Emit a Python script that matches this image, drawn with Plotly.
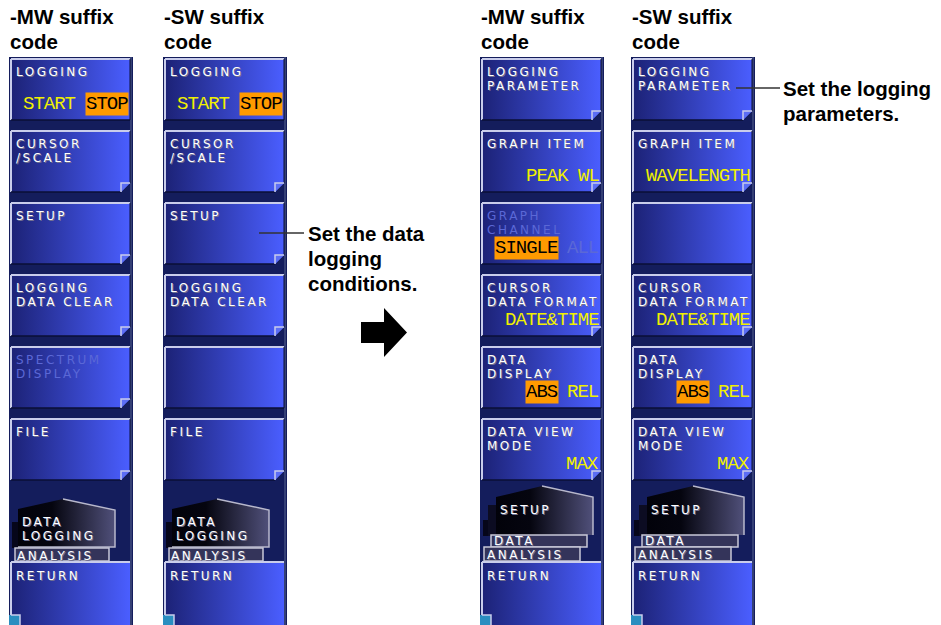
import plotly.graph_objects as go

W, H = 941, 625

# ---------------- data ----------------
title_lines = [["-MW suffix", "code"], ["-SW suffix", "code"], ["-MW suffix", "code"], ["-SW suffix", "code"]]

col1_labels = [["LOGGING"], ["CURSOR", "/SCALE"], ["SETUP"], ["LOGGING", "DATA CLEAR"], ["SPECTRUM", "DISPLAY"], ["FILE"]]
col2_labels = [["LOGGING"], ["CURSOR", "/SCALE"], ["SETUP"], ["LOGGING", "DATA CLEAR"], [], ["FILE"]]
col3_labels = [["LOGGING", "PARAMETER"], ["GRAPH ITEM"], ["GRAPH", "CHANNEL"], ["CURSOR", "DATA FORMAT"], ["DATA", "DISPLAY"], ["DATA VIEW", "MODE"]]
col4_labels = [["LOGGING", "PARAMETER"], ["GRAPH ITEM"], [], ["CURSOR", "DATA FORMAT"], ["DATA", "DISPLAY"], ["DATA VIEW", "MODE"]]

# value items per key: (text, state)  state: on / sel / off
col1_values = [[("START", "on"), ("STOP", "sel")], [], [], [], [], []]
col2_values = [[("START", "on"), ("STOP", "sel")], [], [], [], [], []]
col3_values = [[], [("PEAK WL", "on")], [("SINGLE", "sel"), ("ALL", "off")], [("DATE&TIME", "on")],
               [("ABS", "sel"), ("REL", "on")], [("MAX", "on")]]
col4_values = [[], [("WAVELENGTH", "on")], [], [("DATE&TIME", "on")],
               [("ABS", "sel"), ("REL", "on")], [("MAX", "on")]]

col1_disabled = [False, False, False, False, True, False]
col2_disabled = [False] * 6
col3_disabled = [False, False, True, False, False, False]
col4_disabled = [False] * 6

col1_fold = [False, True, True, True, True, True]
col2_fold = [False, True, True, True, False, True]
col3_fold = [True, True, False, True, False, True]
col4_fold = [True, True, False, True, False, True]

col1_tabs = (["DATA", "LOGGING"], ["ANALYSIS"])
col2_tabs = (["DATA", "LOGGING"], ["ANALYSIS"])
col3_tabs = (["SETUP"], ["DATA", "ANALYSIS"])
col4_tabs = (["SETUP"], ["DATA", "ANALYSIS"])

return_label = "RETURN"

callout1 = ["Set the data", "logging", "conditions."]
callout2 = ["Set the logging", "parameters."]

# ---------------- layout constants ----------------
panel_x = [9, 163, 480, 631]
PANEL_W = 124
PANEL_TOP = 57
KEY_TOP = 59
KEY_PITCH = 72
KEY_H = 61
FOLD = 9

NAVY = "#141d5c"
BTN_L = "#1c2276"
BTN_R = "#4a5eff"
LIGHT = "#c9cdeb"
DARK = "#0a0f36"
YELLOW = "#f0f000"
ORANGE = "#ff9a00"
DISABLED = "#5b68d6"

LABEL_FONT = "DejaVu Sans"
LABEL_SIZE = 12
LABEL_LS = 2.5
LABEL_STEP = 14.2
VALUE_FONT = "Liberation Mono, DejaVu Sans Mono, monospace"
VALUE_SIZE = 19
VALUE_LS = -1.0
VALUE_CW = VALUE_SIZE * 0.6 + VALUE_LS
BOLD_FONT = "Liberation Sans, Arial, Helvetica, sans-serif"
BOLD_SIZE = 20.5
BOLD_STEP = 25

fig = go.Figure()
shapes = []
annotations = []


def spaced(s, ls):
    return f'<span style="letter-spacing:{ls}px">{s}</span>'


def line(x0, y0, x1, y1, color, width=1.5):
    shapes.append(dict(type="line", x0=x0, y0=y0, x1=x1, y1=y1, xref="x", yref="y",
                       line=dict(color=color, width=width)))


def path(d, fill=None, color=None, width=0, layer="above"):
    s = dict(type="path", path=d, xref="x", yref="y", layer=layer,
             line=dict(color=color or "rgba(0,0,0,0)", width=width))
    if fill:
        s["fillcolor"] = fill
    shapes.append(s)


def poly_trace(pts, c0, c1, mid=None):
    xs = [p[0] for p in pts] + [pts[0][0]]
    ys = [p[1] for p in pts] + [pts[0][1]]
    cs = [[0, c0], [1, c1]] if mid is None else [[0, c0], [mid[0], mid[1]], [1, c1]]
    fig.add_trace(go.Scatter(x=xs, y=ys, mode="lines", fill="toself",
                             line=dict(width=0, color="rgba(0,0,0,0)"),
                             fillgradient=dict(type="horizontal", colorscale=cs),
                             hoverinfo="skip", showlegend=False))


def text(x, y, s, size, color, family, xanchor="left", bg=None, shadow=None, weight=None):
    f = dict(size=size, color=color, family=family)
    if shadow:
        f["shadow"] = shadow
    if weight:
        f["weight"] = weight
    a = dict(x=x, y=y, xref="x", yref="y", text=s, showarrow=False, xanchor=xanchor,
             yanchor="middle", font=f, borderpad=0, align="left")
    if bg:
        a["bgcolor"] = bg
    annotations.append(a)


def lines_at(x, y_first, lines, step, size, color, family, ls=None, shadow=None, weight=None):
    for k, ln in enumerate(lines):
        text(x, y_first + k * step, spaced(ln, ls) if ls else ln, size, color, family,
             shadow=shadow, weight=weight)


SHADOW = "1px 1px 0px #707090"


def label_lines(x, y_first, lines, disabled=False):
    lines_at(x, y_first, lines, LABEL_STEP, LABEL_SIZE, DISABLED if disabled else "white", LABEL_FONT,
             ls=LABEL_LS, shadow="none" if disabled else SHADOW)


def draw_key(x0, y0, labels, values, disabled, fold):
    x1, y1 = x0 + 119, y0 + KEY_H
    if fold:
        pts = [(x0, y0), (x1, y0), (x1, y1 - FOLD), (x1 - FOLD, y1), (x0, y1)]
    else:
        pts = [(x0, y0), (x1, y0), (x1, y1), (x0, y1)]
    poly_trace(pts, BTN_L, BTN_R)
    line(x0, y0, x1, y0, LIGHT, 2)
    line(x0, y0, x0, y1, LIGHT, 2)
    line(x0, y1, (x1 - FOLD) if fold else x1, y1, DARK, 1.5)
    line(x1, y0, x1, (y1 - FOLD) if fold else y1, DARK, 1)
    if fold:
        path(f"M {x1-FOLD},{y1} L {x1-FOLD},{y1-FOLD} L {x1},{y1-FOLD} Z", fill="#5c6ef5")
        path(f"M {x1-FOLD},{y1} L {x1-FOLD},{y1-FOLD} L {x1},{y1-FOLD}", color=LIGHT, width=1.5)
    label_lines(x0 + 4, y0 + 13, labels, disabled)
    xr = x1 - 1
    for txt_, st in reversed(values):
        s = spaced(txt_, VALUE_LS)
        if st == "sel":
            text(xr, y0 + 44.5, s, VALUE_SIZE, "black", VALUE_FONT, xanchor="right", bg=ORANGE)
        else:
            text(xr, y0 + 44.5, s, VALUE_SIZE, YELLOW if st == "on" else DISABLED, VALUE_FONT, xanchor="right")
        xr -= len(txt_) * VALUE_CW + 10


def draw_return(x0, y0):
    x1, y1 = x0 + 119, H + 2
    yb = H
    pts = [(x0, y0), (x1, y0), (x1, y1), (x0, y1)]
    poly_trace(pts, BTN_L, BTN_R)
    line(x0, y0, x1, y0, LIGHT, 2)
    line(x0, y0, x0, yb - FOLD - 1, LIGHT, 2)
    path(f"M {x0-2},{yb-FOLD-1} L {x0+FOLD},{yb-FOLD-1} L {x0+FOLD},{y1} L {x0-2},{y1} Z", fill="#2a8ec0")
    path(f"M {x0},{yb-FOLD-1} L {x0+FOLD},{yb-FOLD-1} L {x0+FOLD},{y1}", color=LIGHT, width=1.5)
    label_lines(x0 + 4, y0 + 13.5, [return_label])


def draw_tabs(px, front, back):
    g0, g1 = "#02020a", "#50507a"
    if len(back) == 1:
        path(f"M {px+3},{522} L {px+12},{522} L {px+12},{548} L {px+3},{548} Z", fill="#06061a", layer="below")
        poly_trace([(px + 9, 509), (px + 54, 499), (px + 106, 510), (px + 106, 547), (px + 9, 547)],
                   g0, g1, mid=(0.35, "#05050f"))
        path(f"M {px+54},{499} L {px+106},{510} L {px+106},{547} L {px+9},{547}", color="#b8b8cc", width=1.5)
        path(f"M {px+6},{548} L {px+100},{548} L {px+100},{561} L {px+6},{561} Z", fill="#34345a",
             color="#c8c8d8", width=1.5)
        label_lines(px + 12, 521.5, front)
        label_lines(px + 7, 555.5, back)
    else:
        path(f"M {px+3},{520} L {px+16},{520} L {px+16},{536} L {px+3},{536} Z", fill="#06061a", layer="below")
        path(f"M {px+8},{505} L {px+16},{505} L {px+16},{536} L {px+8},{536} Z", fill="#0c0c22", layer="below")
        poly_trace([(px + 16, 497), (px + 62, 486), (px + 113, 497), (px + 113, 535), (px + 16, 535)],
                   g0, g1, mid=(0.35, "#05050f"))
        path(f"M {px+62},{486} L {px+113},{497} L {px+113},{535}", color="#b8b8cc", width=1.5)
        path(f"M {px+11},{535} L {px+107},{535} L {px+107},{547} L {px+11},{547} Z", fill="#34345a",
             color="#c8c8d8", width=1.5)
        path(f"M {px+4},{547} L {px+100},{547} L {px+100},{561} L {px+4},{561} Z", fill="#34345a",
             color="#c8c8d8", width=1.5)
        label_lines(px + 19, 509.5, front)
        label_lines(px + 13, 540.5, back[:1])
        label_lines(px + 6, 555, back[1:])


columns = [
    (col1_labels, col1_values, col1_disabled, col1_fold, col1_tabs),
    (col2_labels, col2_values, col2_disabled, col2_fold, col2_tabs),
    (col3_labels, col3_values, col3_disabled, col3_fold, col3_tabs),
    (col4_labels, col4_values, col4_disabled, col4_fold, col4_tabs),
]

for c, (labels, values, disabled, fold, tabs) in enumerate(columns):
    px = panel_x[c]
    shapes.append(dict(type="rect", x0=px, x1=px + PANEL_W, y0=PANEL_TOP, y1=H + 2, xref="x", yref="y",
                       fillcolor=NAVY, line=dict(width=0), layer="below"))
    line(px + PANEL_W - 2, PANEL_TOP, px + PANEL_W - 2, H + 2, "#56648e", 1)
    for i in range(len(labels)):
        draw_key(px + 2, KEY_TOP + i * KEY_PITCH, labels[i], values[i], disabled[i], fold[i])
    draw_tabs(px, *tabs)
    draw_return(px + 2, KEY_TOP + 7 * KEY_PITCH - 1)
    lines_at(px, 16.5, title_lines[c], BOLD_STEP, BOLD_SIZE, "black", BOLD_FONT, weight="bold")

# callouts
line(259, 233, 304, 233, "#333333", 1.5)
lines_at(307, 233, callout1, BOLD_STEP, BOLD_SIZE, "black", BOLD_FONT, weight="bold")
line(736, 88, 780, 88, "#333333", 1.5)
lines_at(782, 88, callout2, BOLD_STEP, BOLD_SIZE, "black", BOLD_FONT, weight="bold")

# arrow
path("M 361,322 L 384,322 L 384,308 L 407,332.5 L 384,357 L 384,343 L 361,343 Z", fill="black")

fig.update_layout(
    width=W, height=H,
    margin=dict(l=0, r=0, t=0, b=0),
    paper_bgcolor="white", plot_bgcolor="white",
    xaxis=dict(range=[0, W], visible=False, fixedrange=True),
    yaxis=dict(range=[H, 0], visible=False, fixedrange=True),
    shapes=shapes, annotations=annotations, showlegend=False,
)

# remove the browser's default 8px page margin so the figure sits at the window's top-left
fig.write_html("out.html", config={"displayModeBar": False},
               post_script="document.body.style.margin='0';")
